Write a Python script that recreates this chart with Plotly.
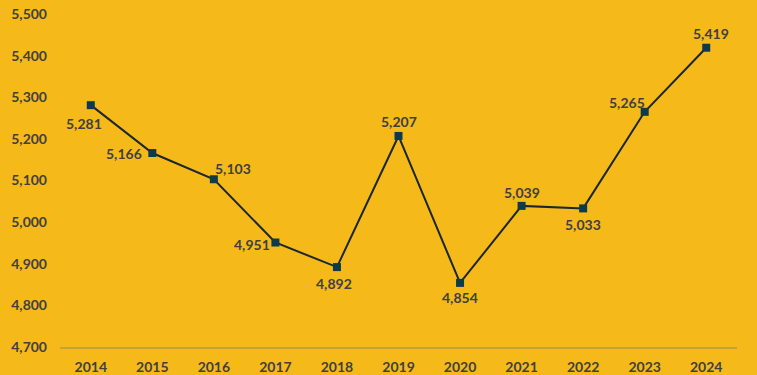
import plotly.graph_objects as go

years = ["2014", "2015", "2016", "2017", "2018", "2019", "2020", "2021", "2022", "2023", "2024"]
values = [5281, 5166, 5103, 4951, 4892, 5207, 4854, 5039, 5033, 5265, 5419]
y_ticks = [4700, 4800, 4900, 5000, 5100, 5200, 5300, 5400, 5500]

# label offsets from the marker in pixels (dx right, dy down)
label_dx = [-7, -28, 19, -23, -3, 0, 0, 0, 0, -18, 5]
label_dy = [18, 0, -11, 2, 16, -14, 15, -13, 16, -9, -14]

bg = "#F5B919"
txt = "#404040"
fnt = "Lato"

fig = go.Figure()
fig.add_trace(go.Scatter(
    x=years, y=values, mode="lines+markers",
    line=dict(color="#1B2730", width=2),
    marker=dict(symbol="square", size=8, color="#0E3A4E"),
    cliponaxis=False,
    hoverinfo="skip",
))

for i, (v, dx, dy) in enumerate(zip(values, label_dx, label_dy)):
    fig.add_annotation(
        x=i, y=v, xref="x", yref="y", text=f"{v:,}", showarrow=False,
        xshift=dx, yshift=-dy, xanchor="center", yanchor="middle",
        font=dict(family=fnt, size=14, color=txt, weight="bold"),
    )

fig.update_layout(
    width=757, height=375,
    paper_bgcolor=bg, plot_bgcolor=bg,
    margin=dict(l=60, r=20, t=14, b=28),
    showlegend=False,
    font=dict(family=fnt, size=14, color=txt),
    xaxis=dict(
        type="category", showgrid=False, zeroline=False, automargin=False,
        showline=True, linecolor="#C9A13A", linewidth=1.5,
        ticks="", tickfont=dict(family=fnt, size=14, color=txt, weight="bold"),
        range=[-0.5, 10.5], ticklabelstandoff=6,
    ),
    yaxis=dict(
        range=[4700, 5500], tickvals=y_ticks, automargin=False,
        ticktext=[f"{v:,}" for v in y_ticks],
        showgrid=False, zeroline=False, showline=False, ticks="",
        tickfont=dict(family=fnt, size=14, color=txt, weight="bold"),
        ticklabelstandoff=12,
    ),
)

fig.write_html("out.html", config={"displayModeBar": False},
               post_script="document.body.style.margin='0';document.body.style.overflow='hidden';")
